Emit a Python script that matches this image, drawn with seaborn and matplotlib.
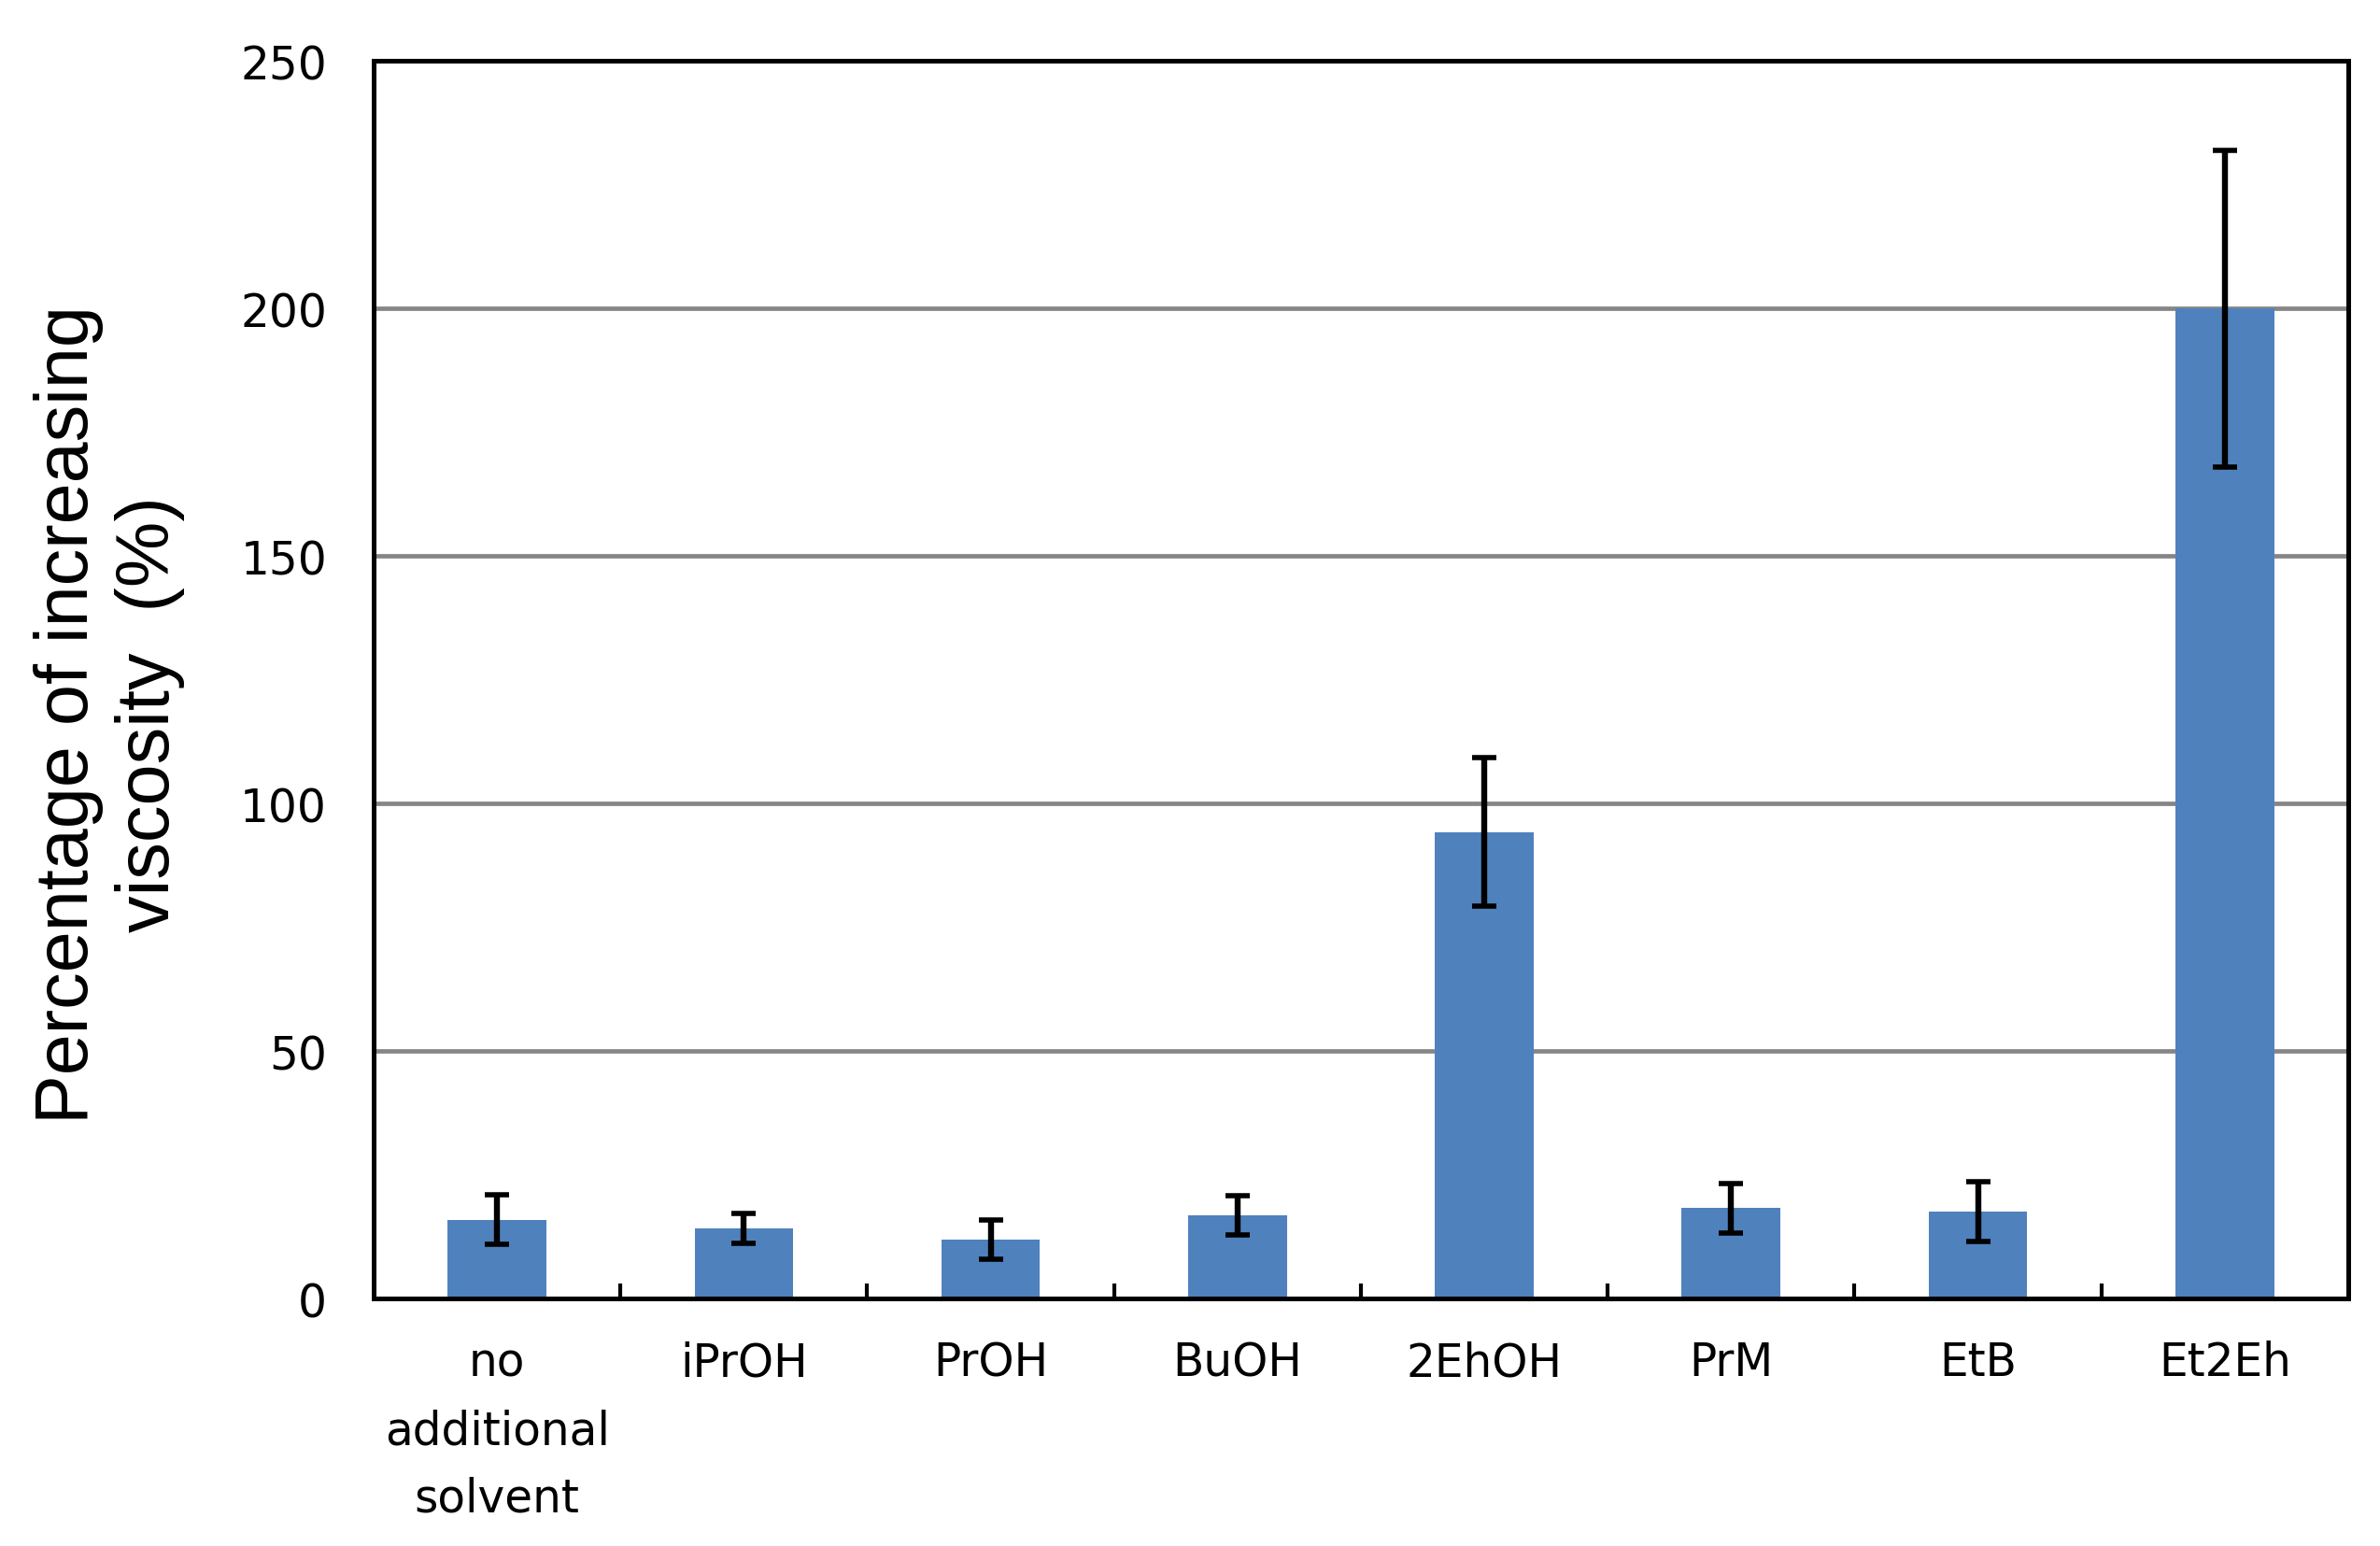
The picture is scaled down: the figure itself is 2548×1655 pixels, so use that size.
import pandas as pd
import numpy as np
import matplotlib
matplotlib.use('Agg')
import matplotlib.pyplot as plt
import seaborn as sns

# data
solvents = ['no\nadditional\nsolvent', 'iPrOH', 'PrOH', 'BuOH', '2EhOH', 'PrM', 'EtB', 'Et2Eh']
increase = [15.9, 14.2, 11.9, 16.8, 94.2, 18.3, 17.6, 200.0]
error = [5.0, 3.0, 4.0, 4.0, 15.0, 5.0, 6.0, 32.0]
yticks = [0, 50, 100, 150, 200, 250]

df = pd.DataFrame({'solvent': solvents, 'increase': increase, 'error': error})

sns.set_style('white')
plt.rcParams['font.family'] = ['DejaVu Sans']
plt.rcParams['text.color'] = 'black'
plt.rcParams['xtick.color'] = 'black'
plt.rcParams['ytick.color'] = 'black'

fig = plt.figure(figsize=(12.74, 8.28), dpi=200)
ax = fig.add_axes([0.157, 0.160, 0.8296, 0.800])

# grid first so the bars sit on top of it
ax.set_axisbelow(True)
ax.yaxis.grid(True, color='#868686', linewidth=1.7)

sns.barplot(data=df, x='solvent', y='increase', order=solvents, color='#4F81BD',
            saturation=1, width=0.4, errorbar=None, linewidth=0, ax=ax)

# error bars
ax.errorbar(x=np.arange(len(solvents)), y=df['increase'], yerr=df['error'],
            fmt='none', ecolor='black', elinewidth=2.3, capsize=4.7, capthick=2.0)

ax.set_ylim(0, 250)
ax.set_xlim(-0.5, len(solvents) - 0.5)
ax.set_yticks(yticks)
ax.set_xlabel('')
ax.set_ylabel('')

for s in ax.spines.values():
    s.set_visible(True)
    s.set_color('black')
    s.set_linewidth(1.8)

# tick marks between categories, pointing inward
ax.set_xticks(np.arange(len(solvents) - 1) + 0.5, minor=True)
ax.tick_params(axis='x', which='minor', direction='in', length=5.8, width=1.5,
               color='black', bottom=True)
ax.tick_params(axis='x', which='major', length=0, pad=16, labelsize=17.5)
ax.tick_params(axis='y', which='major', length=0, pad=18, labelsize=17.5)
for lbl in ax.get_xticklabels():
    lbl.set_linespacing(1.65)
    lbl.set_verticalalignment('top')

fig.text(0.046, 0.538, 'Percentage of increasing\nviscosity  (%)', rotation=90,
         ha='center', va='center', multialignment='center',
         fontsize=28.5, family=['Liberation Sans', 'DejaVu Sans'])

fig.savefig('out.png', dpi=200, facecolor='white')
